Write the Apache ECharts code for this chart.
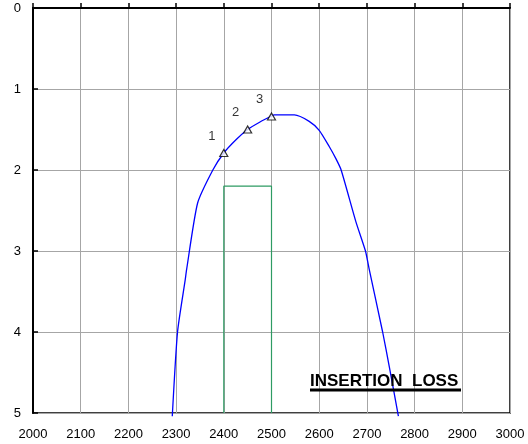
<!DOCTYPE html>
<html>
<head>
<meta charset="utf-8">
<script src="https://cdn.jsdelivr.net/npm/echarts@6/dist/echarts.min.js"></script>
<style>html,body{margin:0;padding:0;background:#fff}#c{width:528px;height:444px}</style>
</head>
<body>
<div id="c"></div>
<script>
// Insertion loss curve (frequency, dB)
const curveX = [2292, 2303, 2319, 2322, 2345, 2377, 2400, 2425, 2450, 2475, 2498, 2506, 2548, 2579, 2600, 2621, 2635, 2646, 2677, 2697, 2705, 2733, 2747, 2766];
const curveY = [5.04, 4.0, 3.36, 3.23, 2.41, 2.0, 1.79, 1.63, 1.50, 1.41, 1.34, 1.32, 1.32, 1.40, 1.51, 1.71, 1.86, 2.0, 2.64, 3.0, 3.23, 4.0, 4.43, 5.04];
// Marked points
const markerX = [2400, 2450, 2500];
const markerY = [1.79, 1.50, 1.34];
const markerLabels = ['1', '2', '3'];
// Specification box (green)
const boxX = [2400, 2400, 2500, 2500];
const boxY = [5, 2.2, 2.2, 5];
// Axes
const xMin = 2000, xMax = 3000, xStep = 100;
const yMin = 0, yMax = 5, yStep = 1;
const titleText = 'INSERTION  LOSS';

const font = 'Liberation Sans';
const chart = echarts.init(document.getElementById('c'), null, {renderer: 'canvas'});
chart.setOption({
  animation: false,
  backgroundColor: '#fff',
  grid: {left: 33, right: 18, top: 8, bottom: 31, show: true, borderColor: '#000', borderWidth: 1.5, backgroundColor: 'transparent'},
  xAxis: {
    type: 'value', min: xMin, max: xMax, interval: xStep,
    axisLine: {show: true, lineStyle: {color: '#000', width: 2}},
    axisTick: {show: true, inside: true, length: 5, lineStyle: {color: '#000', width: 1.5}},
    axisLabel: {color: '#000', fontSize: 13, fontFamily: font, margin: 15, formatter: v => String(v)},
    splitLine: {show: true, lineStyle: {color: '#a6a6a6', width: 1}}
  },
  yAxis: {
    type: 'value', min: yMin, max: yMax, interval: yStep, inverse: true,
    axisLine: {show: true, lineStyle: {color: '#000', width: 2}},
    axisTick: {show: true, inside: true, length: 5, lineStyle: {color: '#000', width: 1.5}},
    axisLabel: {color: '#000', fontSize: 13, fontFamily: font, margin: 12, formatter: v => String(v)},
    splitLine: {show: true, lineStyle: {color: '#a6a6a6', width: 1}}
  },
  series: [
    {
      type: 'line', data: boxX.map((x, i) => [x, boxY[i]]),
      showSymbol: false, symbol: 'none',
      lineStyle: {color: '#2e9b63', width: 1.2}, z: 3
    },
    {
      type: 'line', data: curveX.map((x, i) => [x, curveY[i]]),
      showSymbol: false, symbol: 'none', clip: false, smooth: 0.2,
      lineStyle: {color: '#0000ff', width: 1.3}, z: 4
    },
    {
      type: 'scatter', data: markerX.map((x, i) => ({value: [x, markerY[i]], name: markerLabels[i]})),
      symbol: 'triangle', symbolSize: [8, 7],
      itemStyle: {color: '#fff', borderColor: '#000', borderWidth: 1.2},
      label: {show: true, formatter: p => p.name, position: 'inside', offset: [-12, -17], color: '#000', fontSize: 13, fontFamily: font},
      z: 5
    }
  ],
  graphic: [
    {type: 'text', left: 310, top: 373, style: {text: titleText, font: 'bold 17px "Liberation Sans"', fill: '#000'}, z: 10},
    {type: 'rect', shape: {x: 310, y: 388.5, width: 151, height: 3}, style: {fill: '#000'}, z: 10}
  ]
});
</script>
</body>
</html>
